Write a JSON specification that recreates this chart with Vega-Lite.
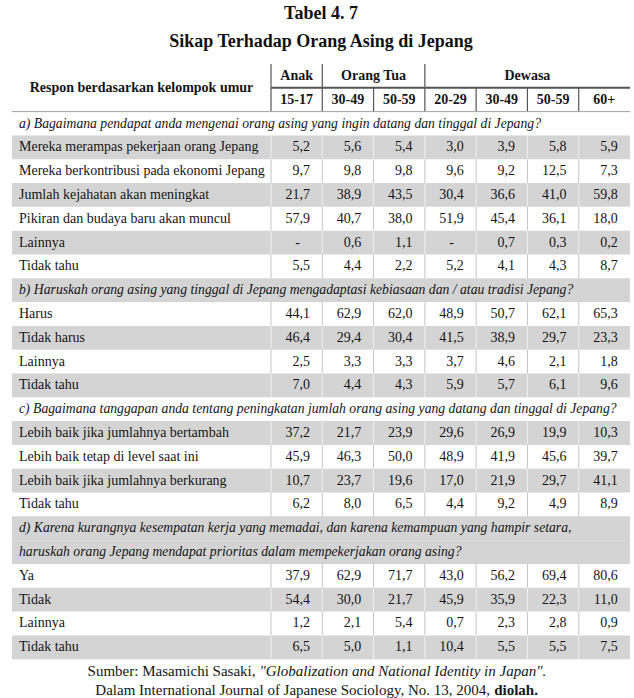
{
  "$schema": "https://vega.github.io/schema/vega-lite/v6.json",
  "width": 618,
  "height": 619,
  "autosize": {"type": "none"},
  "padding": {"left": 12, "top": 64, "right": 4, "bottom": 15},
  "background": "white",
  "title": {
    "text": ["Tabel 4. 7", "Sikap Terhadap Orang Asing di Jepang"],
    "font": "Liberation Serif",
    "fontSize": 18,
    "fontWeight": "bold",
    "lineHeight": 28,
    "anchor": "middle",
    "color": "#111111",
    "offset": 12
  },
  "config": {
    "view": {"stroke": null},
    "locale": {"number": {"decimal": ",", "thousands": ".", "grouping": [3], "currency": ["", ""]}},
    "scale": {"bandPaddingInner": 0, "bandPaddingOuter": 0},
    "mark": {"font": "Liberation Serif"},
    "text": {"font": "Liberation Serif", "fontSize": 14, "color": "#151515"}
  },
  "datasets": {
    "table": [
      {"slot": "h1", "kind": "head", "text": "Respon berdasarkan kelompok umur"},
      {"slot": "h2", "kind": "head2"},
      {"slot": "s_a", "n": 0, "kind": "section", "text": "a) Bagaimana pendapat anda mengenai orang asing yang ingin datang dan tinggal di Jepang?"},
      {"slot": "a1", "n": 1, "kind": "item", "text": "Mereka merampas pekerjaan orang Jepang", "Anak 15-17": 5.2, "Orang Tua 30-49": 5.6, "Orang Tua 50-59": 5.4, "Dewasa 20-29": 3.0, "Dewasa 30-49": 3.9, "Dewasa 50-59": 5.8, "Dewasa 60+": 5.9},
      {"slot": "a2", "n": 2, "kind": "item", "text": "Mereka berkontribusi pada ekonomi Jepang", "Anak 15-17": 9.7, "Orang Tua 30-49": 9.8, "Orang Tua 50-59": 9.8, "Dewasa 20-29": 9.6, "Dewasa 30-49": 9.2, "Dewasa 50-59": 12.5, "Dewasa 60+": 7.3},
      {"slot": "a3", "n": 3, "kind": "item", "text": "Jumlah kejahatan akan meningkat", "Anak 15-17": 21.7, "Orang Tua 30-49": 38.9, "Orang Tua 50-59": 43.5, "Dewasa 20-29": 30.4, "Dewasa 30-49": 36.6, "Dewasa 50-59": 41.0, "Dewasa 60+": 59.8},
      {"slot": "a4", "n": 4, "kind": "item", "text": "Pikiran dan budaya baru akan muncul", "Anak 15-17": 57.9, "Orang Tua 30-49": 40.7, "Orang Tua 50-59": 38.0, "Dewasa 20-29": 51.9, "Dewasa 30-49": 45.4, "Dewasa 50-59": 36.1, "Dewasa 60+": 18.0},
      {"slot": "a5", "n": 5, "kind": "item", "text": "Lainnya", "Anak 15-17": null, "Orang Tua 30-49": 0.6, "Orang Tua 50-59": 1.1, "Dewasa 20-29": null, "Dewasa 30-49": 0.7, "Dewasa 50-59": 0.3, "Dewasa 60+": 0.2},
      {"slot": "a6", "n": 6, "kind": "item", "text": "Tidak tahu", "Anak 15-17": 5.5, "Orang Tua 30-49": 4.4, "Orang Tua 50-59": 2.2, "Dewasa 20-29": 5.2, "Dewasa 30-49": 4.1, "Dewasa 50-59": 4.3, "Dewasa 60+": 8.7},
      {"slot": "s_b", "n": 7, "kind": "section", "text": "b) Haruskah orang asing yang tinggal di Jepang mengadaptasi kebiasaan dan / atau tradisi Jepang?"},
      {"slot": "b1", "n": 8, "kind": "item", "text": "Harus", "Anak 15-17": 44.1, "Orang Tua 30-49": 62.9, "Orang Tua 50-59": 62.0, "Dewasa 20-29": 48.9, "Dewasa 30-49": 50.7, "Dewasa 50-59": 62.1, "Dewasa 60+": 65.3},
      {"slot": "b2", "n": 9, "kind": "item", "text": "Tidak harus", "Anak 15-17": 46.4, "Orang Tua 30-49": 29.4, "Orang Tua 50-59": 30.4, "Dewasa 20-29": 41.5, "Dewasa 30-49": 38.9, "Dewasa 50-59": 29.7, "Dewasa 60+": 23.3},
      {"slot": "b3", "n": 10, "kind": "item", "text": "Lainnya", "Anak 15-17": 2.5, "Orang Tua 30-49": 3.3, "Orang Tua 50-59": 3.3, "Dewasa 20-29": 3.7, "Dewasa 30-49": 4.6, "Dewasa 50-59": 2.1, "Dewasa 60+": 1.8},
      {"slot": "b4", "n": 11, "kind": "item", "text": "Tidak tahu", "Anak 15-17": 7.0, "Orang Tua 30-49": 4.4, "Orang Tua 50-59": 4.3, "Dewasa 20-29": 5.9, "Dewasa 30-49": 5.7, "Dewasa 50-59": 6.1, "Dewasa 60+": 9.6},
      {"slot": "s_c", "n": 12, "kind": "section", "text": "c) Bagaimana tanggapan anda tentang peningkatan jumlah orang asing yang datang dan tinggal di Jepang?"},
      {"slot": "c1", "n": 13, "kind": "item", "text": "Lebih baik jika jumlahnya bertambah", "Anak 15-17": 37.2, "Orang Tua 30-49": 21.7, "Orang Tua 50-59": 23.9, "Dewasa 20-29": 29.6, "Dewasa 30-49": 26.9, "Dewasa 50-59": 19.9, "Dewasa 60+": 10.3},
      {"slot": "c2", "n": 14, "kind": "item", "text": "Lebih baik tetap di level saat ini", "Anak 15-17": 45.9, "Orang Tua 30-49": 46.3, "Orang Tua 50-59": 50.0, "Dewasa 20-29": 48.9, "Dewasa 30-49": 41.9, "Dewasa 50-59": 45.6, "Dewasa 60+": 39.7},
      {"slot": "c3", "n": 15, "kind": "item", "text": "Lebih baik jika jumlahnya berkurang", "Anak 15-17": 10.7, "Orang Tua 30-49": 23.7, "Orang Tua 50-59": 19.6, "Dewasa 20-29": 17.0, "Dewasa 30-49": 21.9, "Dewasa 50-59": 29.7, "Dewasa 60+": 41.1},
      {"slot": "c4", "n": 16, "kind": "item", "text": "Tidak tahu", "Anak 15-17": 6.2, "Orang Tua 30-49": 8.0, "Orang Tua 50-59": 6.5, "Dewasa 20-29": 4.4, "Dewasa 30-49": 9.2, "Dewasa 50-59": 4.9, "Dewasa 60+": 8.9},
      {"slot": "s_d1", "n": 17, "kind": "section", "text": "d) Karena kurangnya kesempatan kerja yang memadai, dan karena kemampuan yang hampir setara,"},
      {"slot": "s_d2", "n": 17, "kind": "section", "text": "haruskah orang Jepang mendapat prioritas dalam mempekerjakan orang asing?"},
      {"slot": "d1", "n": 18, "kind": "item", "text": "Ya", "Anak 15-17": 37.9, "Orang Tua 30-49": 62.9, "Orang Tua 50-59": 71.7, "Dewasa 20-29": 43.0, "Dewasa 30-49": 56.2, "Dewasa 50-59": 69.4, "Dewasa 60+": 80.6},
      {"slot": "d2", "n": 19, "kind": "item", "text": "Tidak", "Anak 15-17": 54.4, "Orang Tua 30-49": 30.0, "Orang Tua 50-59": 21.7, "Dewasa 20-29": 45.9, "Dewasa 30-49": 35.9, "Dewasa 50-59": 22.3, "Dewasa 60+": 11.0},
      {"slot": "d3", "n": 20, "kind": "item", "text": "Lainnya", "Anak 15-17": 1.2, "Orang Tua 30-49": 2.1, "Orang Tua 50-59": 5.4, "Dewasa 20-29": 0.7, "Dewasa 30-49": 2.3, "Dewasa 50-59": 2.8, "Dewasa 60+": 0.9},
      {"slot": "d4", "n": 21, "kind": "item", "text": "Tidak tahu", "Anak 15-17": 6.5, "Orang Tua 30-49": 5.0, "Orang Tua 50-59": 1.1, "Dewasa 20-29": 10.4, "Dewasa 30-49": 5.5, "Dewasa 50-59": 5.5, "Dewasa 60+": 7.5}
    ],
    "groups": [
      {"group": "Anak", "first": "Anak 15-17", "last": "Anak 15-17", "slot": "h1"},
      {"group": "Orang Tua", "first": "Orang Tua 30-49", "last": "Orang Tua 50-59", "slot": "h1"},
      {"group": "Dewasa", "first": "Dewasa 20-29", "last": "Dewasa 60+", "slot": "h1"}
    ],
    "ages": [
      {"col": "Anak 15-17", "age": "15-17", "slot": "h2"},
      {"col": "Orang Tua 30-49", "age": "30-49", "slot": "h2"},
      {"col": "Orang Tua 50-59", "age": "50-59", "slot": "h2"},
      {"col": "Dewasa 20-29", "age": "20-29", "slot": "h2"},
      {"col": "Dewasa 30-49", "age": "30-49", "slot": "h2"},
      {"col": "Dewasa 50-59", "age": "50-59", "slot": "h2"},
      {"col": "Dewasa 60+", "age": "60+", "slot": "h2"}
    ],
    "footer": [
      {"slot": "f1", "line": 1, "lead": "Sumber: Masamichi Sasaki,", "emph": "\"Globalization and National Identity in Japan\"."},
      {"slot": "f1", "line": 2, "lead": "Dalam International Journal of Japanese Sociology, No. 13, 2004,", "emph": "diolah."}
    ]
  },
  "layer": [
    {
      "layer": [
        {
          "data": {"name": "table"},
          "transform": [{"filter": "isValid(datum.n) && datum.n % 2 == 1"}],
          "mark": {"type": "rect", "fill": "#d4d4d4"},
          "encoding": {
            "y": {"field": "slot", "type": "nominal", "axis": null,
                  "scale": {"type": "band", "paddingInner": 0, "paddingOuter": 0,
                            "domain": ["h1","h2","s_a","a1","a2","a3","a4","a5","a6","s_b","b1","b2","b3","b4","s_c","c1","c2","c3","c4","s_d1","s_d2","d1","d2","d3","d4","f1"]}}
          }
        },
        {
          "data": {"name": "table"},
          "transform": [{"filter": "datum.kind == 'head'"}],
          "mark": {"type": "text", "fontWeight": "bold", "align": "center", "baseline": "middle"},
          "encoding": {
            "x": {"datum": "Respon berdasarkan kelompok umur", "type": "nominal", "bandPosition": 0.5, "axis": null,
                  "scale": {"type": "band", "paddingInner": 0, "paddingOuter": 0.693, "align": 0}},
            "y": {"field": "slot", "type": "nominal", "axis": null, "bandPosition": 1},
            "text": {"field": "text"}
          }
        },
        {
          "data": {"name": "table"},
          "transform": [{"filter": "datum.kind == 'item'"}],
          "mark": {"type": "text", "align": "left", "baseline": "middle", "dx": 7},
          "encoding": {
            "x": {"datum": "Respon berdasarkan kelompok umur", "type": "nominal", "bandPosition": 0, "axis": null,
                  "scale": {"type": "band", "paddingInner": 0, "paddingOuter": 0.693, "align": 0}},
            "y": {"field": "slot", "type": "nominal", "axis": null},
            "text": {"field": "text"}
          }
        },
        {
          "data": {"name": "table"},
          "transform": [{"filter": "datum.kind == 'section'"}],
          "mark": {"type": "text", "align": "left", "baseline": "middle", "dx": 7, "fontStyle": "italic", "fontSize": 13.7},
          "encoding": {
            "x": {"datum": "Respon berdasarkan kelompok umur", "type": "nominal", "bandPosition": 0, "axis": null,
                  "scale": {"type": "band", "paddingInner": 0, "paddingOuter": 0.693, "align": 0}},
            "y": {"field": "slot", "type": "nominal", "axis": null},
            "text": {"field": "text"}
          }
        },
        {
          "data": {"name": "footer"},
          "transform": [{"filter": "datum.line == 1"}],
          "mark": {"type": "text", "align": "right", "baseline": "middle", "fontSize": 15},
          "encoding": {
            "x": {"datum": "Respon berdasarkan kelompok umur", "type": "nominal", "bandPosition": 0.94, "axis": null,
                  "scale": {"type": "band", "paddingInner": 0, "paddingOuter": 0.693, "align": 0}},
            "y": {"field": "slot", "type": "nominal", "axis": null},
            "text": {"field": "lead"}
          }
        },
        {
          "data": {"name": "footer"},
          "transform": [{"filter": "datum.line == 1"}],
          "mark": {"type": "text", "align": "left", "baseline": "middle", "fontSize": 15, "fontStyle": "italic", "dx": 4},
          "encoding": {
            "x": {"datum": "Respon berdasarkan kelompok umur", "type": "nominal", "bandPosition": 0.94, "axis": null,
                  "scale": {"type": "band", "paddingInner": 0, "paddingOuter": 0.693, "align": 0}},
            "y": {"field": "slot", "type": "nominal", "axis": null},
            "text": {"field": "emph"}
          }
        },
        {
          "data": {"name": "footer"},
          "transform": [{"filter": "datum.line == 2"}],
          "mark": {"type": "text", "align": "right", "baseline": "middle", "fontSize": 15, "dy": 19},
          "encoding": {
            "x": {"datum": "Respon berdasarkan kelompok umur", "type": "nominal", "bandPosition": 1.846, "axis": null,
                  "scale": {"type": "band", "paddingInner": 0, "paddingOuter": 0.693, "align": 0}},
            "y": {"field": "slot", "type": "nominal", "axis": null},
            "text": {"field": "lead"}
          }
        },
        {
          "data": {"name": "footer"},
          "transform": [{"filter": "datum.line == 2"}],
          "mark": {"type": "text", "align": "left", "baseline": "middle", "fontSize": 15, "fontWeight": "bold", "dx": 4, "dy": 19},
          "encoding": {
            "x": {"datum": "Respon berdasarkan kelompok umur", "type": "nominal", "bandPosition": 1.846, "axis": null,
                  "scale": {"type": "band", "paddingInner": 0, "paddingOuter": 0.693, "align": 0}},
            "y": {"field": "slot", "type": "nominal", "axis": null},
            "text": {"field": "emph"}
          }
        }
      ]
    },
    {
      "layer": [
        {
          "data": {"name": "table"},
          "transform": [
            {"filter": "datum.kind == 'item'"},
            {"fold": ["Anak 15-17","Orang Tua 30-49","Orang Tua 50-59","Dewasa 20-29","Dewasa 30-49","Dewasa 50-59","Dewasa 60+"], "as": ["col", "v"]}
          ],
          "mark": {"type": "rule", "strokeWidth": 1},
          "encoding": {
            "x": {"field": "col", "type": "nominal", "bandPosition": 0, "axis": null,
                  "scale": {"type": "band", "paddingInner": 0, "paddingOuter": 0, "range": [259, 618],
                            "domain": ["Anak 15-17","Orang Tua 30-49","Orang Tua 50-59","Dewasa 20-29","Dewasa 30-49","Dewasa 50-59","Dewasa 60+"]}},
            "y": {"field": "slot", "type": "nominal", "axis": null, "bandPosition": 0},
            "y2": {"field": "slot", "bandPosition": 1},
            "color": {"condition": {"test": "datum.n % 2 == 1", "value": "#efefef"}, "value": "#c4c4c4"}
          }
        },
        {
          "data": {"name": "table"},
          "transform": [
            {"filter": "datum.kind == 'item'"},
            {"fold": ["Anak 15-17","Orang Tua 30-49","Orang Tua 50-59","Dewasa 20-29","Dewasa 30-49","Dewasa 50-59","Dewasa 60+"], "as": ["col", "v"]},
            {"filter": "datum.v != null"}
          ],
          "mark": {"type": "text", "align": "right", "baseline": "middle"},
          "encoding": {
            "x": {"field": "col", "type": "nominal", "bandPosition": 0.76, "axis": null},
            "y": {"field": "slot", "type": "nominal", "axis": null},
            "text": {"field": "v", "type": "quantitative", "format": ".1f"}
          }
        },
        {
          "data": {"name": "table"},
          "transform": [
            {"filter": "datum.kind == 'item'"},
            {"fold": ["Anak 15-17","Orang Tua 30-49","Orang Tua 50-59","Dewasa 20-29","Dewasa 30-49","Dewasa 50-59","Dewasa 60+"], "as": ["col", "v"]},
            {"filter": "datum.v == null"}
          ],
          "mark": {"type": "text", "align": "center", "baseline": "middle"},
          "encoding": {
            "x": {"field": "col", "type": "nominal", "bandPosition": 0.52, "axis": null},
            "y": {"field": "slot", "type": "nominal", "axis": null},
            "text": {"value": "-"}
          }
        },
        {
          "data": {"name": "groups"},
          "mark": {"type": "rule", "stroke": "#555555", "strokeWidth": 2},
          "encoding": {
            "x": {"field": "first", "type": "nominal", "bandPosition": 0, "axis": null},
            "x2": {"field": "last", "bandPosition": 1},
            "y": {"field": "slot", "type": "nominal", "axis": null, "bandPosition": 1}
          }
        },
        {
          "data": {"name": "groups"},
          "mark": {"type": "rule", "stroke": "#555555", "strokeWidth": 1.2},
          "encoding": {
            "x": {"field": "first", "type": "nominal", "bandPosition": 0, "axis": null},
            "y": {"field": "slot", "type": "nominal", "axis": null, "bandPosition": 0},
            "y2": {"field": "slot", "bandPosition": 1}
          }
        },
        {
          "data": {"name": "ages"},
          "mark": {"type": "rule", "stroke": "#555555", "strokeWidth": 1.2},
          "encoding": {
            "x": {"field": "col", "type": "nominal", "bandPosition": 0, "axis": null},
            "y": {"field": "slot", "type": "nominal", "axis": null, "bandPosition": 0},
            "y2": {"field": "slot", "bandPosition": 1}
          }
        },
        {
          "data": {"name": "table"},
          "transform": [{"filter": "datum.slot == 'h2'"}],
          "mark": {"type": "rule", "stroke": "#a0a0a0", "strokeWidth": 1},
          "encoding": {
            "y": {"field": "slot", "type": "nominal", "axis": null, "bandPosition": 1}
          }
        },
        {
          "data": {"name": "ages"},
          "mark": {"type": "text", "fontWeight": "bold", "align": "center", "baseline": "middle"},
          "encoding": {
            "x": {"field": "col", "type": "nominal", "axis": null},
            "y": {"field": "slot", "type": "nominal", "axis": null},
            "text": {"field": "age"}
          }
        },
        {
          "data": {"name": "groups"},
          "transform": [{"filter": "datum.group == 'Anak'"}],
          "mark": {"type": "text", "fontWeight": "bold", "align": "center", "baseline": "middle"},
          "encoding": {
            "x": {"field": "first", "type": "nominal", "bandPosition": 0.5, "axis": null},
            "y": {"field": "slot", "type": "nominal", "axis": null},
            "text": {"field": "group"}
          }
        },
        {
          "data": {"name": "groups"},
          "transform": [{"filter": "datum.group == 'Orang Tua'"}],
          "mark": {"type": "text", "fontWeight": "bold", "align": "center", "baseline": "middle"},
          "encoding": {
            "x": {"field": "last", "type": "nominal", "bandPosition": 0, "axis": null},
            "y": {"field": "slot", "type": "nominal", "axis": null},
            "text": {"field": "group"}
          }
        },
        {
          "data": {"name": "groups"},
          "transform": [{"filter": "datum.group == 'Dewasa'"}],
          "mark": {"type": "text", "fontWeight": "bold", "align": "center", "baseline": "middle"},
          "encoding": {
            "x": {"datum": "Dewasa 50-59", "type": "nominal", "bandPosition": 0, "axis": null},
            "y": {"field": "slot", "type": "nominal", "axis": null},
            "text": {"field": "group"}
          }
        }
      ]
    }
  ],
  "resolve": {"scale": {"x": "independent"}}
}
